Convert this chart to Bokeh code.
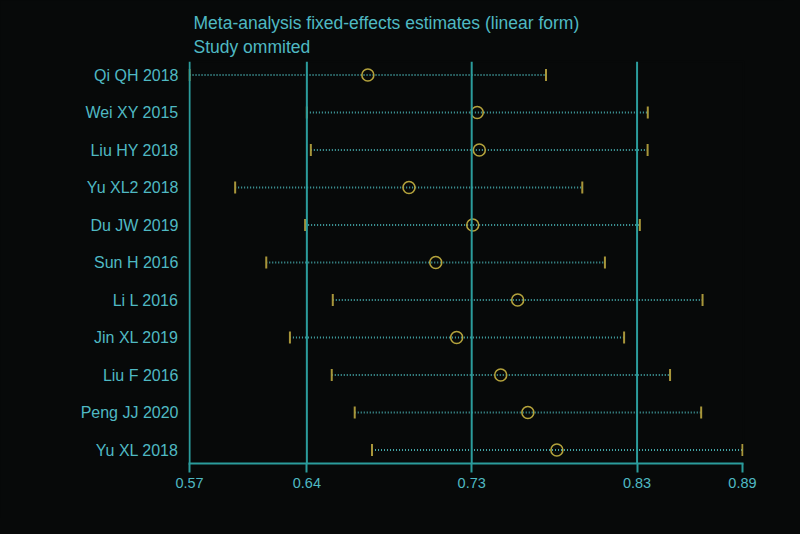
from bokeh.plotting import figure
from bokeh.models import Range1d, FixedTicker, Span
from bokeh.embed import file_html
from bokeh.resources import INLINE

studies = ["Qi QH 2018", "Wei XY 2015", "Liu HY 2018", "Yu XL2 2018", "Du JW 2019",
           "Sun H 2016", "Li L 2016", "Jin XL 2019", "Liu F 2016", "Peng JJ 2020", "Yu XL 2018"]
estimate = [0.6732, 0.7365, 0.7377, 0.6970, 0.7339, 0.7125, 0.7599, 0.7246, 0.7501, 0.7658, 0.7826]
lower = [0.5700, 0.6379, 0.6402, 0.5964, 0.6369, 0.6144, 0.6529, 0.6281, 0.6523, 0.6656, 0.6756]
upper = [0.7763, 0.8352, 0.8351, 0.7973, 0.8306, 0.8104, 0.8669, 0.8215, 0.8481, 0.8661, 0.8900]
tick_values = [0.5700, 0.6379, 0.7333, 0.8290, 0.8900]
tick_labels = ["0.57", "0.64", "0.73", "0.83", "0.89"]
ref_lines = [0.5700, 0.6379, 0.7333, 0.8290]

BG = "#070909"
TEXT = "#4fb9c3"
TEAL = "#2b9c9c"
DOT = "#44a6a8"
GOLD = "#b3a23c"
CAP = "#a8963a"

n = len(studies)
ypos = [n - i for i in range(n)]
pad = 0.0006

p = figure(width=784, height=518, output_backend="svg", toolbar_location=None,
           x_range=Range1d(min(lower) - pad, max(upper) + pad), y_range=Range1d(0.64, n + 0.36),
           background_fill_color=BG, border_fill_color=BG,
           min_border_left=188, min_border_right=41, min_border_top=61, min_border_bottom=55)
p.styles = {"background-color": BG}
p.outline_line_color = BG
p.outline_line_width = 2
p.grid.grid_line_color = None

p.title.text = "Meta-analysis fixed-effects estimates (linear form)\nStudy ommited"
p.title.text_color = TEXT
p.title.text_font = "Liberation Sans"
p.title.text_font_size = "17.5px"
p.title.text_font_style = "normal"
p.title.align = "left"
p.title.offset = 5
p.title.text_line_height = 1.2

for v in ref_lines:
    p.add_layout(Span(location=v, dimension="height", line_color=TEAL, line_width=2))

p.segment(x0=lower, x1=upper, y0=ypos, y1=ypos, line_color=DOT, line_width=2, line_dash="1 2")
cap_h = 0.16
p.segment(x0=lower, x1=lower, y0=[y - cap_h for y in ypos], y1=[y + cap_h for y in ypos],
          line_color=CAP, line_width=2)
p.segment(x0=upper, x1=upper, y0=[y - cap_h for y in ypos], y1=[y + cap_h for y in ypos],
          line_color=CAP, line_width=2)
p.scatter(x=estimate, y=ypos, marker="circle", size=12, fill_color=None,
          line_color=GOLD, line_width=1.6)

xa = p.xaxis[0]
xa.ticker = FixedTicker(ticks=tick_values)
xa.major_label_overrides = {v: l for v, l in zip(tick_values, tick_labels)}
xa.axis_line_color = TEAL
xa.axis_line_width = 2
xa.major_tick_line_color = TEAL
xa.major_tick_line_width = 2
xa.major_tick_in = 0
xa.major_tick_out = 9
xa.minor_tick_line_color = None
xa.major_label_text_color = TEXT
xa.major_label_text_font = "Liberation Sans"
xa.major_label_text_font_size = "14.5px"
xa.major_label_standoff = 5

ya = p.yaxis[0]
ya.ticker = FixedTicker(ticks=ypos)
ya.major_label_overrides = {y: s for y, s in zip(ypos, studies)}
ya.axis_line_color = None
ya.major_tick_line_color = None
ya.major_tick_in = 0
ya.major_tick_out = 0
ya.minor_tick_line_color = None
ya.minor_tick_in = 0
ya.minor_tick_out = 0
ya.major_label_text_color = TEXT
ya.major_label_text_font = "Liberation Sans"
ya.major_label_text_font_size = "16px"
ya.major_label_standoff = 10

html = file_html(p, INLINE)
html = html.replace("</head>", "<style>html, body { background-color: #070909; }</style></head>", 1)
open("out.html", "w").write(html)
